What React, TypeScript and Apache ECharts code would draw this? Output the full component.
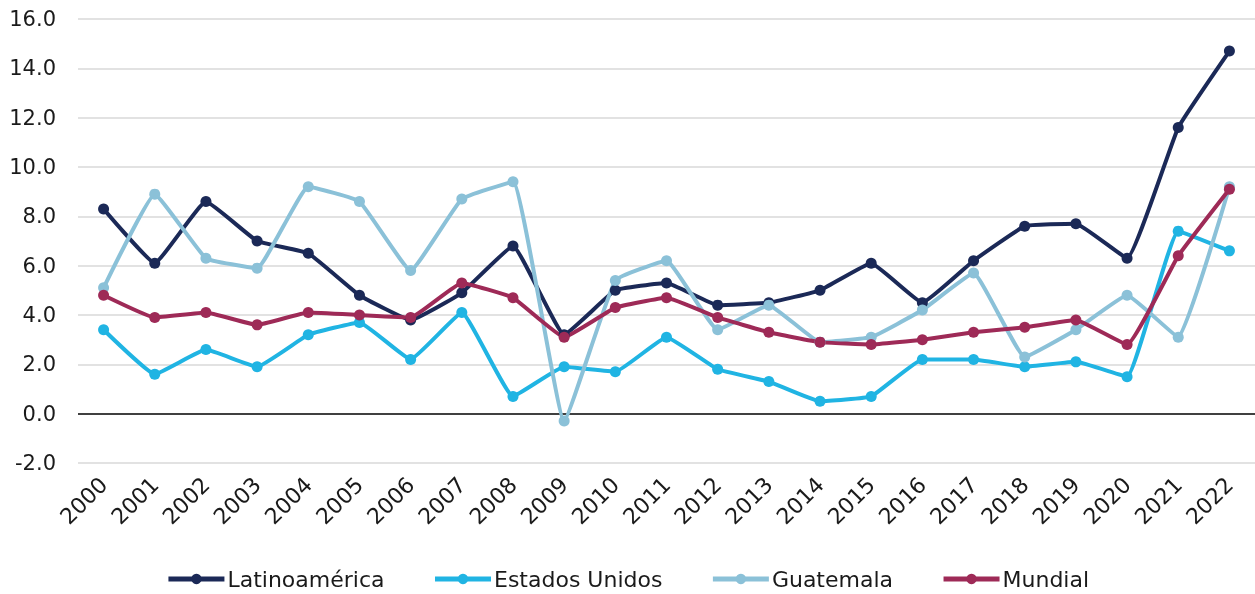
import React, { useEffect, useRef } from "react";
import * as echarts from "echarts";

const years = ["2000","2001","2002","2003","2004","2005","2006","2007","2008","2009","2010","2011","2012","2013","2014","2015","2016","2017","2018","2019","2020","2021","2022"];
const latinoamerica = [8.3,6.1,8.6,7.0,6.5,4.8,3.8,4.9,6.8,3.2,5.0,5.3,4.4,4.5,5.0,6.1,4.5,6.2,7.6,7.7,6.3,11.6,14.7];
const estadosUnidos = [3.4,1.6,2.6,1.9,3.2,3.7,2.2,4.1,0.7,1.9,1.7,3.1,1.8,1.3,0.5,0.7,2.2,2.2,1.9,2.1,1.5,7.4,6.6];
const guatemala = [5.1,8.9,6.3,5.9,9.2,8.6,5.8,8.7,9.4,-0.3,5.4,6.2,3.4,4.4,2.9,3.1,4.2,5.7,2.3,3.4,4.8,3.1,9.2];
const mundial = [4.8,3.9,4.1,3.6,4.1,4.0,3.9,5.3,4.7,3.1,4.3,4.7,3.9,3.3,2.9,2.8,3.0,3.3,3.5,3.8,2.8,6.4,9.1];

const seriesNames = ["Latinoamérica", "Estados Unidos", "Guatemala", "Mundial"];
const seriesData = [latinoamerica, estadosUnidos, guatemala, mundial];
const colors = ["#1b2957", "#20b4e3", "#8bc1d8", "#9e2a57"];

const FONT = "'DejaVu Sans', sans-serif";

export default function App() {
  const ref = useRef<HTMLDivElement>(null);
  useEffect(() => {
    if (!ref.current) return;
    const chart = echarts.init(ref.current, undefined, { renderer: "svg" });
    const splitColors = ["#d9d9d9", "#000000", "#d9d9d9", "#d9d9d9", "#d9d9d9", "#d9d9d9", "#d9d9d9", "#d9d9d9", "#d9d9d9", "#d9d9d9"];
    chart.setOption({
      animation: false,
      color: colors,
      grid: { left: 78, right: 0, top: 19, bottom: 131, containLabel: false },
      legend: {
        top: 563,
        left: "center",
        itemWidth: 56,
        itemHeight: 13,
        itemGap: 48,
        lineStyle: { width: 5 },
        textStyle: { fontFamily: FONT, fontSize: 22, color: "#1a1a1a", padding: [0, 0, 0, -2] },
        data: seriesNames,
      },
      xAxis: {
        type: "category",
        data: years,
        boundaryGap: true,
        axisLine: { show: false },
        axisTick: { show: false },
        axisLabel: { rotate: 45, fontFamily: FONT, fontSize: 22, color: "#1a1a1a", margin: 18, interval: 0 },
      },
      yAxis: {
        type: "value",
        min: -2,
        max: 16,
        interval: 2,
        axisLine: { show: false },
        axisTick: { show: false },
        axisLabel: {
          formatter: (v: number) => v.toFixed(1),
          fontFamily: FONT,
          fontSize: 21,
          color: "#1a1a1a",
          margin: 22,
        },
        splitLine: { lineStyle: { color: splitColors, width: 1.5 } },
      },
      series: seriesNames.map((name, i) => ({
        name,
        type: "line",
        data: seriesData[i],
        symbol: "circle",
        symbolSize: 11,
        smooth: 0.1,
        lineStyle: { width: 4, color: colors[i] },
        itemStyle: { color: colors[i] },
      })),
    });
    return () => chart.dispose();
  }, []);
  return <div ref={ref} style={{ position: "fixed", left: 0, top: 0, width: 1255, height: 594 }} />;
}
